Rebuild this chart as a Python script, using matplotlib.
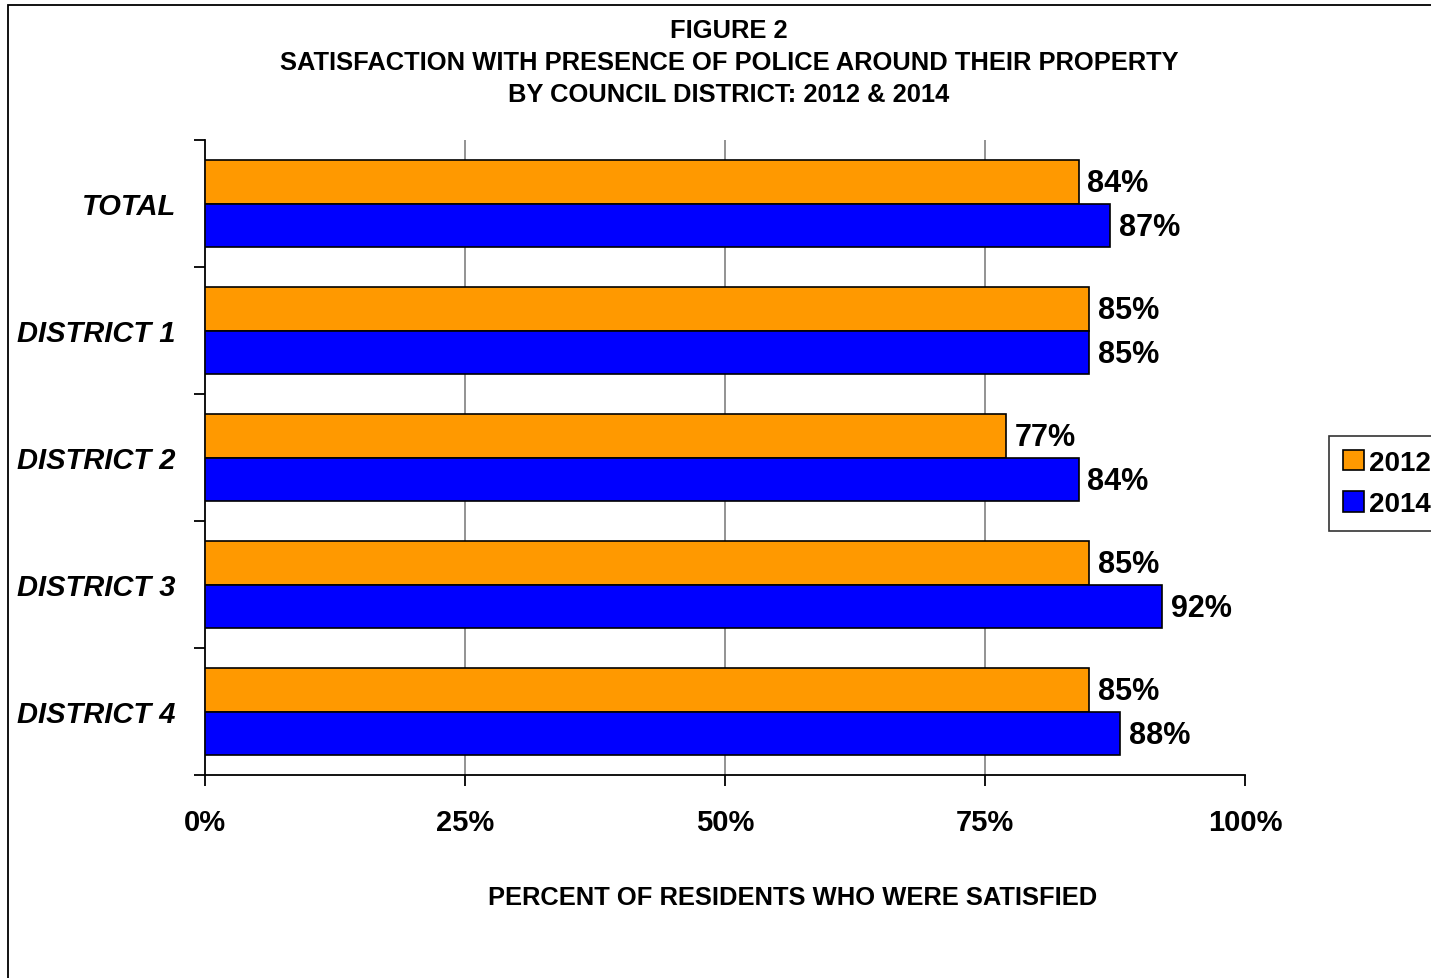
import matplotlib.pyplot as plt
from matplotlib.patches import Rectangle
import numpy as np

plt.rcParams['font.family'] = ['Liberation Sans', 'DejaVu Sans']

categories = ['TOTAL', 'DISTRICT 1', 'DISTRICT 2', 'DISTRICT 3', 'DISTRICT 4']
pct_2012 = [84, 85, 77, 85, 85]
pct_2014 = [87, 85, 84, 92, 88]
x_ticks = [0, 25, 50, 75, 100]
x_tick_labels = ['0%', '25%', '50%', '75%', '100%']

W, H = 1431, 979
fig = plt.figure(figsize=(W / 100, H / 100), dpi=100)

# outer frame of the chart area (runs off the right and bottom edges)
fig.patches.append(Rectangle((8 / W, -0.05), 1.1, 1 - 6 / H + 0.05,
                             transform=fig.transFigure, fill=False,
                             edgecolor='black', linewidth=1.3))

ax = fig.add_axes([205 / W, 1 - 776 / H, (1245 - 205) / W, (776 - 141) / H])

y = np.arange(len(categories))
bar_h = 0.346
ax.barh(y - bar_h / 2, pct_2012, height=bar_h, color='#FF9900',
        edgecolor='black', linewidth=1.2, label='2012', zorder=3)
ax.barh(y + bar_h / 2, pct_2014, height=bar_h, color='#0000FF',
        edgecolor='black', linewidth=1.2, label='2014', zorder=3)

for i, (a, b) in enumerate(zip(pct_2012, pct_2014)):
    ax.text(a + 0.85, i - bar_h / 2 + 0.015, f'{a}%', va='center', ha='left',
            fontsize=22, fontweight='bold')
    ax.text(b + 0.85, i + bar_h / 2 + 0.015, f'{b}%', va='center', ha='left',
            fontsize=22, fontweight='bold')

ax.set_xlim(0, 100)
ax.set_ylim(len(categories) - 0.5, -0.5)

# vertical gridlines only between the end ticks
for t in x_ticks[1:-1]:
    ax.axvline(t, color='#808080', linewidth=1.2, zorder=0)

ax.set_xticks(x_ticks)
ax.set_xticklabels(x_tick_labels, fontsize=21, fontweight='bold')
ax.set_yticks(y)
ax.set_yticklabels(categories, fontsize=21, fontweight='bold', style='italic')
ax.set_yticks(np.arange(len(categories) + 1) - 0.5, minor=True)
ax.tick_params(axis='y', which='major', length=0, pad=21)
ax.tick_params(axis='y', which='minor', length=8, width=1.3, direction='out')
ax.tick_params(axis='x', length=8, width=1.3, direction='out', pad=16)

for s in ['top', 'right']:
    ax.spines[s].set_visible(False)
for s in ['left', 'bottom']:
    ax.spines[s].set_linewidth(1.3)

ax.set_xlabel('PERCENT OF RESIDENTS WHO WERE SATISFIED', fontsize=18.4,
              fontweight='bold')
ax.xaxis.set_label_coords((793 - 205) / (1245 - 205), -(898 - 776) / (776 - 141))
ax.xaxis.label.set_va('center')

title_lines = ['FIGURE 2',
               'SATISFACTION WITH PRESENCE OF POLICE AROUND THEIR PROPERTY',
               'BY COUNCIL DISTRICT: 2012 & 2014']
for line, ypix in zip(title_lines, [31, 63, 95]):
    fig.text(729 / W, 1 - ypix / H, line, ha='center', va='center',
             fontsize=18.4, fontweight='bold')

leg = fig.legend(loc='upper left', bbox_to_anchor=(1329 / W, 1 - 437 / H),
                 prop={'size': 20, 'weight': 'bold'}, frameon=True,
                 fancybox=False, handlelength=0.75, handleheight=0.75,
                 handletextpad=0.2, borderpad=0.5, labelspacing=0.55,
                 borderaxespad=0)
leg.get_frame().set_edgecolor('black')
leg.get_frame().set_linewidth(1.2)

fig.savefig('out.png', dpi=100)
